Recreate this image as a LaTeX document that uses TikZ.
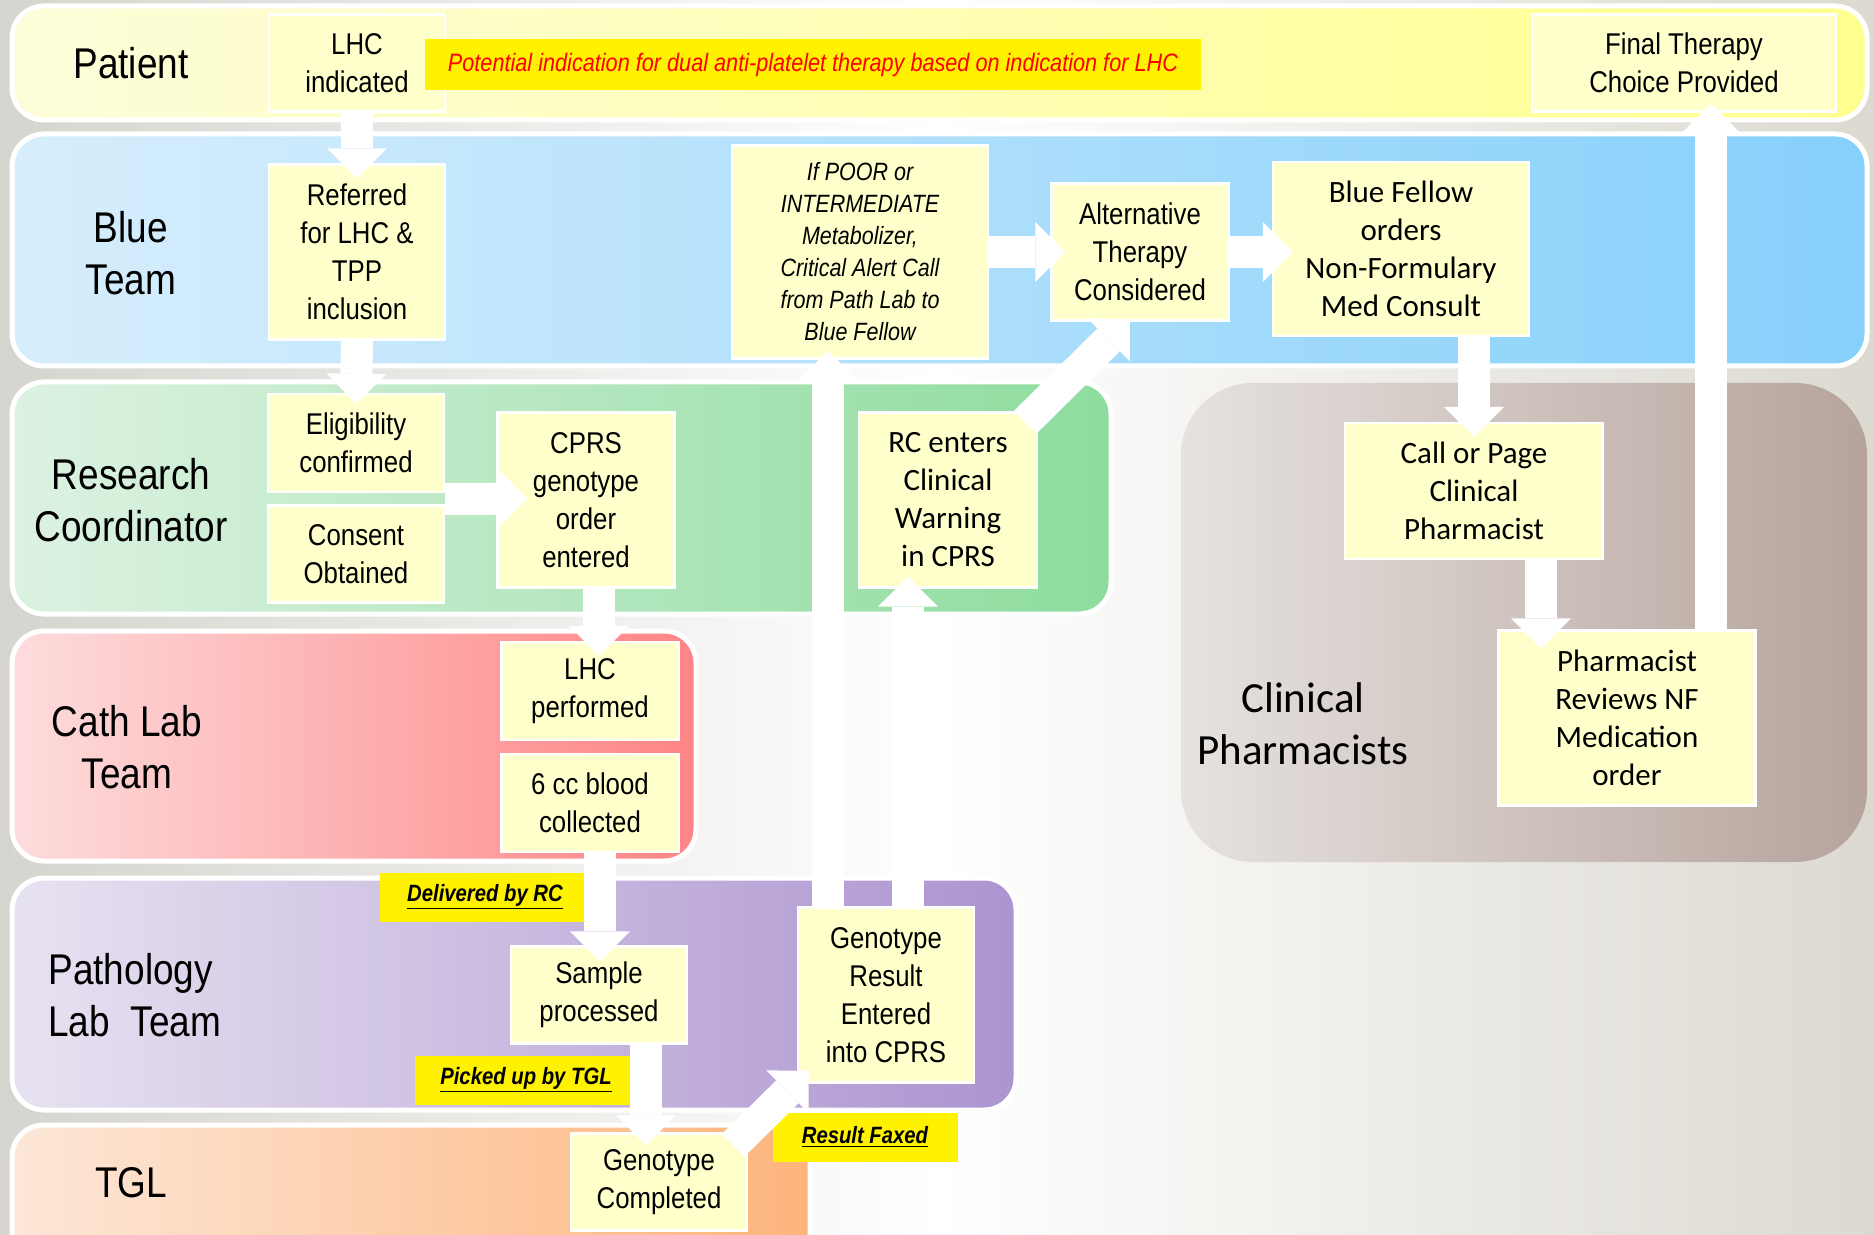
\documentclass[tikz,border=0pt]{standalone}
\usepackage{fontspec}
\usepackage{tikz}
\usetikzlibrary{arrows.meta,calc}
\newfontfamily\narrowfont{Liberation Sans}[FakeStretch=0.86]
\newfontfamily\califont{Carlito}
\definecolor{boxyellow}{HTML}{FFFFCC}
\definecolor{bgL}{HTML}{D6D4CE}
\definecolor{bgR}{HTML}{DCD9D1}
\definecolor{patL}{HTML}{FDFDDA}
\definecolor{patR}{HTML}{FFFF8F}
\definecolor{blueL}{HTML}{D7EEFC}
\definecolor{blueR}{HTML}{86D0FB}
\definecolor{greenL}{HTML}{DDF2E2}
\definecolor{greenR}{HTML}{8DDC9D}
\definecolor{pinkL}{HTML}{FDDCDD}
\definecolor{pinkR}{HTML}{FE8484}
\definecolor{purpL}{HTML}{E7E2F1}
\definecolor{purpR}{HTML}{AD94D0}
\definecolor{peachL}{HTML}{FDE7D8}
\definecolor{peachR}{HTML}{FDB47B}
\definecolor{brownL}{HTML}{E6E2DF}
\definecolor{brownR}{HTML}{B6A39C}

\begin{document}
\begin{tikzpicture}[x=0.5pt,y=-0.5pt,
  lane/.style={draw=white,line width=2.5pt,rounded corners=16pt},
  lanelabel/.style={align=center,inner sep=0pt,font=\narrowfont\fontsize{21.5}{26}\selectfont},
  box/.style={draw=white,line width=1.2pt,fill=boxyellow,inner sep=0pt,align=center,
    font=\narrowfont\fontsize{15}{19}\selectfont},
  cbox/.style={box,font=\califont\fontsize{15.5}{19}\selectfont},
  tag/.style={fill=yellow,inner sep=0pt,align=center,
    font=\narrowfont\bfseries\itshape\fontsize{11.8}{15}\selectfont},
  flow/.style={draw=white,line width=16pt,
    -{Triangle[width=30pt,length=15pt,line width=0pt]}}]
\useasboundingbox (0,0) rectangle (1874,1235);
\clip (0,0) rectangle (1874,1235);
\shade[left color=bgL,right color=bgR,middle color=white] (0,0) rectangle (1874,1235);

% swim lanes
\path[lane,left color=patL,right color=patR] (12,6) rectangle (1867,120);
\path[lane,left color=blueL,right color=blueR] (12,134) rectangle (1867,366);
\path[lane,left color=greenL,right color=greenR] (12,382) rectangle (1111,614);
\path[lane,left color=pinkL,right color=pinkR] (12,631) rectangle (696,861);
\path[lane,left color=purpL,right color=purpR] (12,878) rectangle (1016,1110);
\path[lane,left color=peachL,right color=peachR] (12,1125) rectangle (810,1300);
\path[lane,draw=none,rounded corners=36pt,left color=brownL,right color=brownR] (1181,383) rectangle (1867,862);

% lane names
\node[lanelabel] (patient) at (131,63) {Patient};
\node[lanelabel] (blueteam) at (131,253) {Blue\\Team};
\node[lanelabel] (research) at (131,500) {Research\\Coordinator};
\node[lanelabel] (cathlab) at (127,747) {Cath Lab\\Team};
\node[lanelabel,align=left,anchor=west] (pathology) at (48,995) {Pathology\\Lab\ \ Team};
\node[lanelabel] (tgl) at (131,1183) {TGL};
\node[lanelabel,font=\califont\fontsize{21.5}{26}\selectfont] (clinpharm) at (1303,724) {Clinical\\Pharmacists};

% steps
\node[box,minimum width=88pt,minimum height=48.5pt] (LHC) at (357,63) {LHC\\indicated};
\node[fill=yellow,inner sep=0pt,minimum width=388pt,minimum height=25.5pt,
  font=\narrowfont\itshape\fontsize{12.6}{15}\selectfont,text=red] (banner) at (813,65)
  {Potential indication for dual anti-platelet therapy based on indication for LHC};
\node[box,minimum width=152pt,minimum height=48.5pt] (Final) at (1684,63) {Final Therapy\\Choice Provided};
\node[box,minimum width=88pt,minimum height=87.5pt] (Referred) at (357,252) {Referred\\for LHC \&\\TPP\\inclusion};
\node[box,minimum width=128pt,minimum height=106.5pt,
  font=\narrowfont\itshape\fontsize{12.5}{16}\selectfont] (POOR) at (860,252)
  {If POOR or\\INTERMEDIATE\\Metabolizer,\\Critical Alert Call\\from Path Lab to\\Blue Fellow};
\node[box,minimum width=88.5pt,minimum height=68.5pt] (Alt) at (1140,252) {Alternative\\Therapy\\Considered};
\node[cbox,minimum width=128pt,minimum height=87pt] (Fellow) at (1401,249) {Blue Fellow\\orders\\Non-Formulary\\Med Consult};
\node[box,minimum width=88pt,minimum height=49pt] (Elig) at (356,443) {Eligibility\\confirmed};
\node[box,minimum width=88pt,minimum height=48.5pt] (Consent) at (356,554) {Consent\\Obtained};
\node[box,minimum width=88.5pt,minimum height=87.5pt] (CPRS) at (586,500) {CPRS\\genotype\\order\\entered};
\node[cbox,minimum width=89pt,minimum height=87.5pt] (RCwarn) at (948,500) {RC enters\\Clinical\\Warning\\in CPRS};
\node[cbox,minimum width=129pt,minimum height=68pt] (CallPage) at (1474,491) {Call or Page\\Clinical\\Pharmacist};
\node[cbox,minimum width=128.5pt,minimum height=87.5pt] (PharmRev) at (1627,718) {Pharmacist\\Reviews NF\\Medication\\order};
\node[box,minimum width=88.5pt,minimum height=49pt] (LHCperf) at (590,691) {LHC\\performed};
\node[box,minimum width=88.5pt,minimum height=49pt] (Blood) at (590,803) {6 cc blood\\collected};
\node[box,minimum width=88pt,minimum height=48.5pt] (Sample) at (599,995) {Sample\\processed};
\node[box,minimum width=88pt,minimum height=87.5pt] (Result) at (886,995) {Genotype\\Result\\Entered\\into CPRS};
\node[box,minimum width=88pt,minimum height=48.5pt] (Completed) at (659,1182) {Genotype\\Completed};

% hand-over notes
\node[tag,minimum width=105.5pt,minimum height=24.5pt] (delivered) at (485,897) {\underline{Delivered by RC}};
\node[tag,minimum width=111.5pt,minimum height=24.5pt] (picked) at (526,1080) {\underline{Picked up by TGL}};
\node[tag,minimum width=92.5pt,minimum height=24.5pt] (faxed) at (865,1137) {\underline{Result Faxed}};

% flow
\coordinate (EC) at ($(Elig.south east)!0.5!(Consent.north east)$);
\draw[flow] (LHC.south) -- ($(Referred.north)+(0,15)$);
\draw[flow] (Referred.south) -- ($(Elig.north)+(0,11)$);
\draw[flow] (EC) -- ($(EC -| CPRS.west)+(31,0)$);
\draw[flow] ($(CPRS.south)+(13,0)$) -- ($(CPRS.south |- LHCperf.north)+(13,15)$);
\draw[flow] ($(Blood.south)+(10,0)$) -- ($(Blood.south |- Sample.north)+(10,16)$);
\draw[flow] ($(Sample.south)+(47,0)$) -- ($(Sample.south |- Completed.north)+(47,13)$);
\draw[flow] ($(Completed.north east)+(-15,13)$) -- ($(Result.south west)+(12,-13)$);
\draw[flow] ($(Result.north)+(-58,0)$) -- ($(Result.north |- POOR.south)+(-58,-9)$);
\draw[flow] ($(Result.north)+(22,0)$) -- ($(Result.north |- RCwarn.south)+(22,-12)$);
\draw[flow] (POOR.east) -- ($(Alt.west)+(15,0)$);
\draw[flow] ($(RCwarn.north east)+(-13,11)$) -- ($(Alt.south)+(-10,-3)$);
\draw[flow] (Alt.east) -- ($(Alt.east -| Fellow.west)+(21,0)$);
\draw[flow] (Fellow.south -| CallPage.north) -- ($(CallPage.north)+(0,15)$);
\draw[flow] ($(CallPage.south)+(67,0)$) -- ($(CallPage.south |- PharmRev.north)+(67,19)$);
\draw[flow] ($(PharmRev.north)+(84,0)$) -- ($(PharmRev.north |- Final.south)+(84,-9)$);
\end{tikzpicture}
\end{document}
